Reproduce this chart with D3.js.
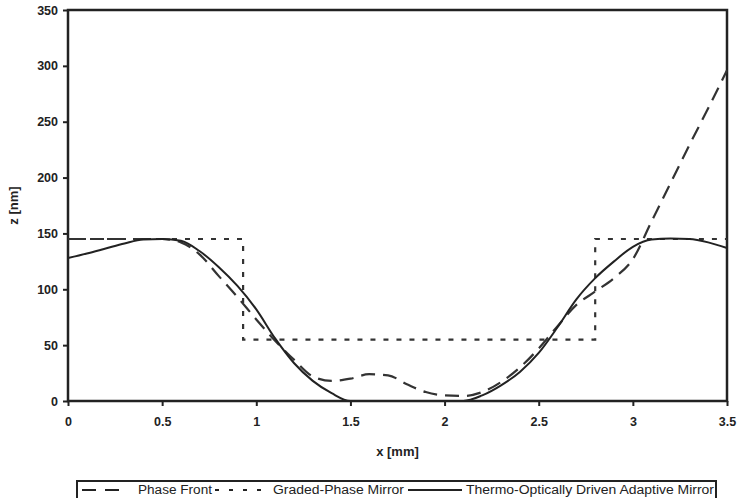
<!DOCTYPE html>
<html>
<head>
<meta charset="utf-8">
<script src="https://cdn.jsdelivr.net/npm/d3@7"></script>
<style>
    body { margin: 0; background: #fff; }
    text { font-family: "Liberation Sans", Arial, sans-serif; fill: #222; }
</style>
</head>
<body>
<div id="chart"></div>
<script>
// sample positions along x [mm]
const xValues = [0, 0.1, 0.2, 0.3, 0.4, 0.5, 0.6, 0.7, 0.8, 0.9, 1.0, 1.1, 1.2, 1.3, 1.4, 1.5, 1.6, 1.7,
    1.8, 1.9, 2.0, 2.1, 2.2, 2.3, 2.4, 2.5, 2.6, 2.7, 2.8, 2.9, 3.0, 3.1, 3.2, 3.3, 3.4, 3.5];
const phaseFront = [145, 145, 145, 145, 145, 145, 142, 131, 112, 93, 73, 54, 37, 22, 18, 20, 24, 23,
    15, 8, 5, 4.5, 8, 17, 30, 47, 67, 86, 98, 110, 127, 161, 195, 229, 262, 296];
const thermoMirror = [128, 132, 136.5, 141, 144.5, 145, 143.5, 134, 120, 103, 82, 56, 34, 18, 7, 0, 0, 0,
    0, 0, 0, 0, 5, 14, 26, 43, 66, 91, 110, 125, 138, 144.5, 145.5, 145, 142, 137];
// graded-phase mirror is a step profile
const gradedX = [0, 0.93, 0.93, 2.8, 2.8, 3.5];
const gradedZ = [145, 145, 55, 55, 145, 145];

const xTicks = [0, 0.5, 1, 1.5, 2, 2.5, 3, 3.5];
const yTicks = [0, 50, 100, 150, 200, 250, 300, 350];
const legendLabels = ["Phase Front", "Graded-Phase Mirror", "Thermo-Optically Driven Adaptive Mirror"];

let dimensions = {
    width: 737,
    height: 498,
    margin: {
        top: 10,
        right: 10,
        bottom: 97,
        left: 68,
    },
}
dimensions.boundedWidth = dimensions.width - dimensions.margin.left - dimensions.margin.right;
dimensions.boundedHeight = dimensions.height - dimensions.margin.top - dimensions.margin.bottom;

const svgRoot = d3.select("#chart")
    .append("svg")
    .attr("width", dimensions.width)
    .attr("height", dimensions.height);

const svg = svgRoot.append("g")
    .attr("transform", `translate(${dimensions.margin.left}, ${dimensions.margin.top})`);

const x = d3.scaleLinear()
    .domain([0, 3.5])
    .range([0, dimensions.boundedWidth]);

const y = d3.scaleLinear()
    .domain([0, 350])
    .range([dimensions.boundedHeight, 0]);

// X axis
const xAxis = svg.append("g")
    .attr("transform", `translate(0, ${dimensions.boundedHeight})`)
    .call(d3.axisBottom(x).tickValues(xTicks).tickSize(5).tickPadding(11).tickFormat(d3.format("")));

// Y axis
const yAxis = svg.append("g")
    .call(d3.axisLeft(y).tickValues(yTicks).tickSize(5).tickPadding(5));

[xAxis, yAxis].forEach(a => {
    a.select(".domain").remove();
    a.selectAll("line").attr("stroke", "#222").attr("stroke-width", 2);
    a.selectAll("text")
        .style("font-size", "12.5px")
        .style("font-weight", "bold")
        .attr("fill", "#333");
});

// frame
svg.append("rect")
    .attr("width", dimensions.boundedWidth)
    .attr("height", dimensions.boundedHeight)
    .attr("fill", "none")
    .attr("stroke", "#222")
    .attr("stroke-width", 2.5);

const line = d3.line()
    .x((d, i) => x(xValues[i]))
    .y(d => y(d))
    .curve(d3.curveMonotoneX);

const stepLine = d3.line()
    .x((d, i) => x(gradedX[i]))
    .y(d => y(d));

svg.append("path")
    .datum(gradedZ)
    .attr("d", stepLine)
    .attr("fill", "none")
    .attr("stroke", "#333")
    .attr("stroke-width", 2.2)
    .attr("stroke-dasharray", "5,8");

svg.append("path")
    .datum(phaseFront)
    .attr("d", line)
    .attr("fill", "none")
    .attr("stroke", "#333")
    .attr("stroke-width", 2.2)
    .attr("stroke-dasharray", "14,8");

svg.append("path")
    .datum(thermoMirror)
    .attr("d", line)
    .attr("fill", "none")
    .attr("stroke", "#222")
    .attr("stroke-width", 2);

// axis titles
svg.append("text")
    .attr("x", dimensions.boundedWidth / 2)
    .attr("y", dimensions.boundedHeight + 55)
    .attr("text-anchor", "middle")
    .style("font-size", "13px")
    .style("font-weight", "bold")
    .text("x [mm]");

svg.append("text")
    .attr("transform", `translate(${18 - dimensions.margin.left}, ${dimensions.boundedHeight / 2}) rotate(-90)`)
    .attr("text-anchor", "middle")
    .style("font-size", "13px")
    .style("font-weight", "bold")
    .text("z [nm]");

// legend
const legend = svgRoot.append("g");
legend.append("rect")
    .attr("x", 77)
    .attr("y", 481)
    .attr("width", 639)
    .attr("height", 26)
    .attr("fill", "none")
    .attr("stroke", "#222")
    .attr("stroke-width", 2);

const legendItems = [
    { x0: 82, x1: 127, tx: 138, w: 74, dash: "14,9", width: 2.2 },
    { x0: 215, x1: 270, tx: 273, w: 131, dash: "4,10", width: 2.2 },
    { x0: 408, x1: 462, tx: 466, w: 248, dash: null, width: 2 },
];
legendItems.forEach((d, i) => {
    legend.append("line")
        .attr("x1", d.x0).attr("x2", d.x1)
        .attr("y1", 490).attr("y2", 490)
        .attr("stroke", "#222")
        .attr("stroke-width", d.width)
        .attr("stroke-dasharray", d.dash);
    legend.append("text")
        .attr("x", d.tx)
        .attr("y", 494)
        .attr("textLength", d.w)
        .attr("lengthAdjust", "spacingAndGlyphs")
        .style("font-size", "12px")
        .text(legendLabels[i]);
});
</script>
</body>
</html>
